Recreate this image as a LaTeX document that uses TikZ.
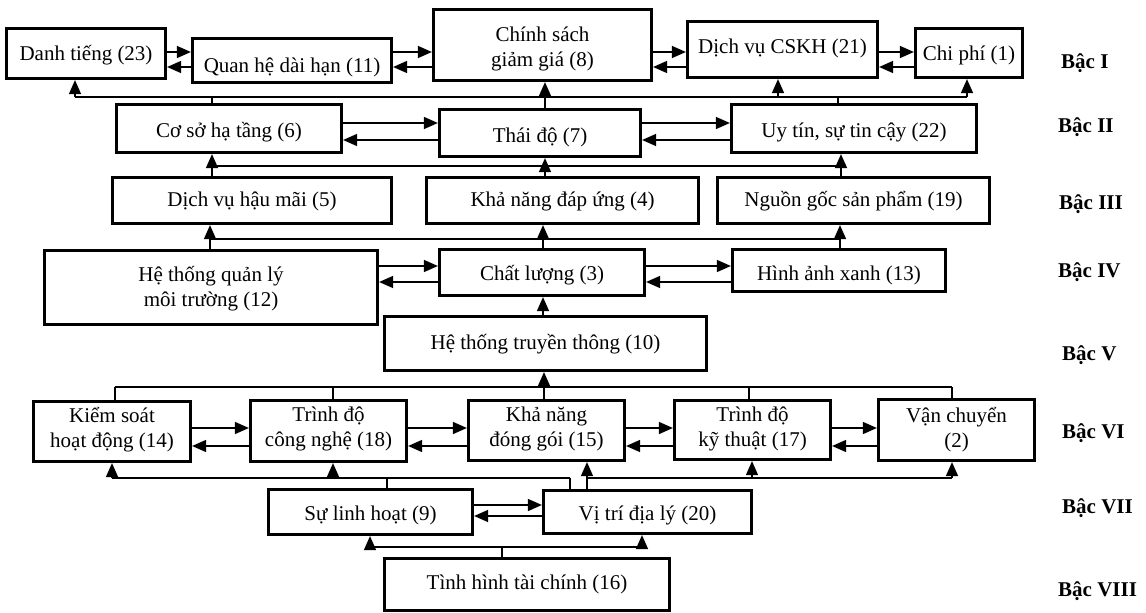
\documentclass[tikz,border=0pt]{standalone}
\usepackage{fontspec}
\setmainfont{Liberation Serif}
\usetikzlibrary{arrows.meta}
% name, x1, y1, x2, y2, text height (2 x baseline offset), text
\newcommand\mybox[7]{\node[box,minimum width=#4-#2-3,minimum height=#5-#3-3,text height=#6pt,text depth=0pt] (#1) at ({(#2+#4)/2},{(#3+#5)/2}) {#7};}
\newcommand\twol[2]{\begin{tabular}{@{}c@{}}#1\\#2\end{tabular}}
\begin{document}
\begin{tikzpicture}[x=1pt,y=-1pt,
  box/.style={draw,line width=3.2pt,inner sep=1pt,font=\fontsize{21}{25}\selectfont},
  ln/.style={line width=1.5pt},
  arr/.style={line width=1.5pt,-{Triangle[length=14pt,width=12pt]}},
  lvl/.style={font=\fontsize{21}{25}\selectfont\bfseries,anchor=west,inner sep=0pt}]
\useasboundingbox (0,0) rectangle (1146,613);
% nodes
\mybox{dt}{5}{27}{167}{80}{13}{Danh tiếng (23)}
\mybox{qh}{191}{37}{393}{84}{24}{Quan hệ dài hạn (11)}
\mybox{cs}{432}{8}{653}{82}{18}{\twol{Chính sách}{giảm giá (8)}}
\mybox{dv}{686}{20}{879}{79}{8}{Dịch vụ CSKH (21)}
\mybox{cp}{914}{27}{1024}{79}{14}{Chi phí (1)}
\mybox{ht}{115}{103}{343}{154}{17}{Cơ sở hạ tầng (6)}
\mybox{td}{438}{108}{642}{158}{18}{Thái độ (7)}
\mybox{ut}{730}{103}{978}{154}{17}{Uy tín, sự tin cậy (22)}
\mybox{hm}{111}{176}{393}{225}{12}{Dịch vụ hậu mãi (5)}
\mybox{du}{425}{176}{700}{225}{12}{Khả năng đáp ứng (4)}
\mybox{ng}{716}{176}{991}{225}{12}{Nguồn gốc sản phẩm (19)}
\mybox{ql}{43}{249}{379}{326}{13}{\twol{Hệ thống quản lý}{môi trường (12)}}
\mybox{cl}{438}{248}{646}{297}{15}{Chất lượng (3)}
\mybox{hx}{731}{248}{947}{293}{19}{Hình ảnh xanh (13)}
\mybox{tt}{383}{315}{708}{372}{12}{Hệ thống truyền thông (10)}
\mybox{ks}{32}{400}{192}{463}{8}{\twol{Kiểm soát}{hoạt động (14)}}
\mybox{cn}{249}{399}{408}{463}{6}{\twol{Trình độ}{công nghệ (18)}}
\mybox{dg}{467}{399}{626}{462}{8}{\twol{Khả năng}{đóng gói (15)}}
\mybox{kt}{673}{399}{832}{461}{8}{\twol{Trình độ}{kỹ thuật (17)}}
\mybox{vc}{877}{398}{1036}{462}{10}{\twol{Vận chuyển}{(2)}}
\mybox{lh}{267}{488}{474}{536}{16}{Sự linh hoạt (9)}
\mybox{vt}{542}{489}{753}{535}{16}{Vị trí địa lý (20)}
\mybox{tc}{383}{557}{671}{612}{9}{Tình hình tài chính (16)}
% level labels
\node[lvl] (l1) at (1061,63) {Bậc I};
\node[lvl] (l2) at (1058,127) {Bậc II};
\node[lvl] (l3) at (1059,204) {Bậc III};
\node[lvl] (l4) at (1058,272) {Bậc IV};
\node[lvl] (l5) at (1062,355) {Bậc V};
\node[lvl] (l6) at (1062,433) {Bậc VI};
\node[lvl] (l7) at (1062,508) {Bậc VII};
\node[lvl] (l8) at (1058,591) {Bậc VIII};
% horizontal pairs
\foreach \a/\b/\u/\d in {dt/qh/52/67, qh/cs/52/67, cs/dv/52/67, dv/cp/52/67,
  ht/td/123/140, td/ut/123/140, ql/cl/266/282, cl/hx/266/282,
  ks/cn/428/446, cn/dg/428/446, dg/kt/428/446, kt/vc/428/446, lh/vt/505/516}{
  \draw[arr] (\a.east |- 0,\u) -- (\b.west |- 0,\u);
  \draw[arr] (\b.west |- 0,\d) -- (\a.east |- 0,\d);
}
% bus level I
\coordinate (b1l) at (75,97); \coordinate (b1r) at (967,97);
\draw[ln] (b1l) -- (b1r);
\draw[arr] (b1l) -- (b1l |- dt.south);
\draw[arr] (b1r) -- (b1r |- cp.south);
\coordinate (b1c) at (778,97);
\draw[arr] (b1c) -- (b1c |- dv.south);
\coordinate (b1h) at (212,97); \draw[ln] (b1h) -- (b1h |- ht.north);
\coordinate (b1u) at (838,97); \draw[ln] (b1u) -- (b1u |- ut.north);
\coordinate (x545) at (545,0);
\draw[arr] (td.north -| x545) -- (cs.south -| x545);
% bus II-III
\coordinate (b2l) at (212,166); \coordinate (b2m) at (545,166); \coordinate (b2r) at (841,166);
\draw[ln] (b2l) -- (b2r);
\draw[arr] (b2l) -- (b2l |- ht.south);
\draw[arr] (b2m) -- (b2m |- td.south);
\draw[arr] (b2r) -- (b2r |- ut.south);
\draw[ln] (hm.north -| b2l) -- (b2l);
\draw[ln] (du.north -| b2m) -- (b2m);
\draw[ln] (ng.north -| b2r) -- (b2r);
% bus III-IV
\coordinate (b3l) at (210,239); \coordinate (b3m) at (543,239); \coordinate (b3r) at (840,239);
\draw[ln] (b3l) -- (b3r);
\draw[arr] (b3l) -- (b3l |- hm.south);
\draw[arr] (b3m) -- (b3m |- du.south);
\draw[arr] (b3r) -- (b3r |- ng.south);
\draw[ln] (ql.north -| b3l) -- (b3l);
\draw[ln] (cl.north -| b3m) -- (b3m);
\draw[ln] (hx.north -| b3r) -- (b3r);
% V -> IV
\draw[arr] (tt.north -| b3m) -- (cl.south -| b3m);
% bus V-VI
\coordinate (b5l) at (115,387); \coordinate (b5r) at (952,387);
\coordinate (b5a) at (333,387); \coordinate (b5b) at (749,387); \coordinate (b5m) at (544,387);
\draw[ln] (b5l) -- (b5r);
\draw[ln] (b5l) -- (b5l |- ks.north);
\draw[ln] (b5a) -- (b5a |- cn.north);
\draw[ln] (b5b) -- (b5b |- kt.north);
\draw[ln] (b5r) -- (b5r |- vc.north);
\draw[arr] (dg.north -| b5m) -- (tt.south -| b5m);
% bus VI-VII left
\coordinate (b6l) at (112,478); \coordinate (b6a) at (333,478);
\coordinate (b6h) at (387,478); \coordinate (b6v) at (570,478);
\draw[ln] (b6l) -- (b6v);
\draw[arr] (b6l) -- (b6l |- ks.south);
\draw[arr] (b6a) -- (b6a |- cn.south);
\draw[ln] (b6h) -- (b6h |- lh.north);
\draw[ln] (b6v) -- (b6v |- vt.north);
% bus VI-VII right
\coordinate (b6m) at (587,478); \coordinate (b6k) at (752,478); \coordinate (b6r) at (952,478);
\draw[arr] (vt.north -| b6m) -- (dg.south -| b6m);
\draw[ln] (b6m) -- (b6r);
\draw[arr] (b6k) -- (b6k |- kt.south);
\draw[arr] (b6r) -- (b6r |- vc.south);
% bus VII-VIII
\coordinate (b7l) at (370,547); \coordinate (b7r) at (642,547); \coordinate (b7m) at (502,547);
\draw[ln] (b7l) -- (b7r);
\draw[arr] (b7l) -- (b7l |- lh.south);
\draw[arr] (b7r) -- (b7r |- vt.south);
\draw[ln] (tc.north -| b7m) -- (b7m);
\end{tikzpicture}
\end{document}
